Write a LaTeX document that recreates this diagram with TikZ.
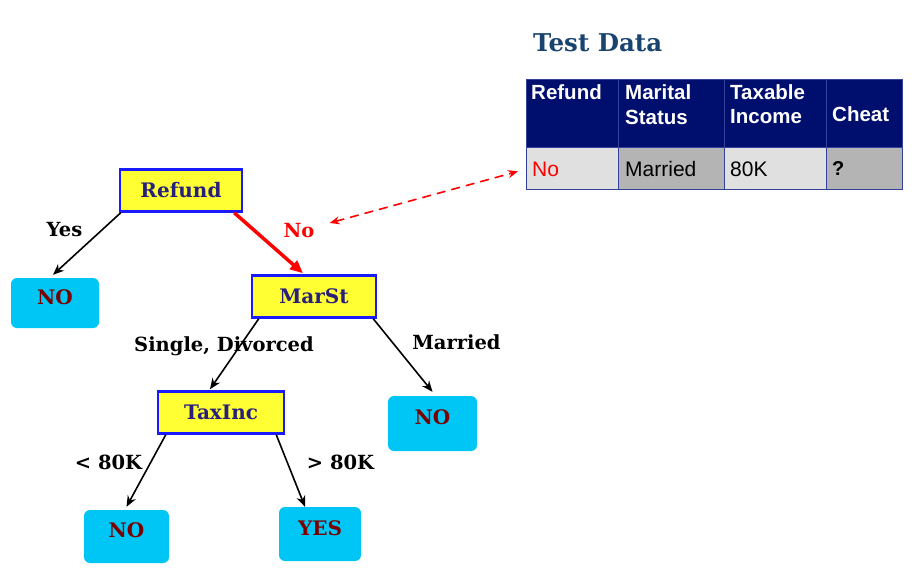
\documentclass[tikz,border=0pt]{standalone}
\usepackage{fontspec}
\setmainfont{DejaVu Serif}
\newfontfamily\arialfont{Liberation Sans}
\usetikzlibrary{arrows.meta}
\definecolor{boxyellow}{HTML}{FFFF33}
\definecolor{boxblue}{HTML}{1A1AFF}
\definecolor{navytext}{HTML}{28207A}
\definecolor{leafcyan}{HTML}{00C6F6}
\definecolor{leaftext}{HTML}{7A0000}
\definecolor{titleblue}{HTML}{1A4470}
\definecolor{headnavy}{HTML}{000F6E}
\definecolor{cellline}{HTML}{34429A}
\definecolor{lightcell}{HTML}{E0E0E0}
\definecolor{darkcell}{HTML}{B4B4B4}
\tikzset{
  attr/.style={draw=boxblue, line width=2.5pt, fill=boxyellow, text=navytext,
    font=\fontsize{20}{24}\selectfont\bfseries, inner sep=0pt, minimum height=42pt},
  leaf/.style={fill=leafcyan, rounded corners=6pt, text=leaftext,
    font=\fontsize{20}{24}\selectfont\bfseries, inner sep=0pt, text depth=12pt},
  edgelab/.style={font=\fontsize{19.5}{23}\selectfont\bfseries, inner sep=0pt},
  arr/.style={-{Stealth[length=11pt,width=9pt]}, line width=1.6pt},
  headcell/.style={fill=headnavy, draw=cellline, line width=0.8pt, inner sep=0pt},
  datacell/.style={draw=cellline, line width=0.8pt, inner sep=0pt},
  headtxt/.style={text=white, font=\arialfont\fontsize{20.5}{24}\selectfont\bfseries, inner sep=0pt, anchor=west, align=left},
  datatxt/.style={font=\arialfont\fontsize{21}{24}\selectfont, inner sep=0pt, anchor=west},
}
\begin{document}
\begin{tikzpicture}[x=1pt,y=-1pt]
\useasboundingbox (0,0) rectangle (921,576);

% tree nodes
\node[attr, minimum width=122pt] (refund) at (181,190.5) {Refund};
\node[attr, minimum width=124pt] (marst) at (314,296.5) {MarSt};
\node[attr, minimum width=126pt] (taxinc) at (221,412.5) {TaxInc};
\node[leaf, minimum width=88pt, minimum height=50pt] (no1) at (55,303) {NO};
\node[leaf, minimum width=89pt, minimum height=55pt] (no2) at (432.5,423.5) {NO};
\node[leaf, minimum width=85pt, minimum height=53pt] (no3) at (126.5,536.5) {NO};
\node[leaf, minimum width=82pt, minimum height=54pt] (yes) at (320,534) {YES};

% edges
\draw[arr] ([xshift=2pt]refund.south west) -- ([xshift=-2pt,yshift=3pt]no1.north);
\draw[-{Triangle[length=13pt,width=11pt]}, line width=3.5pt, red] ([xshift=-9pt]refund.south east) -- ([xshift=-11pt,yshift=1pt]marst.north);
\draw[arr] ([xshift=8pt]marst.south west) -- ([xshift=-11pt,yshift=1pt]taxinc.north);
\draw[arr] ([xshift=-4pt]marst.south east) -- ([yshift=4pt]no2.north);
\draw[arr] ([xshift=9pt]taxinc.south west) -- ([yshift=3pt]no3.north);
\draw[arr] ([xshift=-9pt]taxinc.south east) -- ([xshift=-15pt]yes.north);

% edge labels
\node[edgelab] (lyes) at (64.5,230) {Yes};
\node[edgelab, text=red] (lno) at (299,231) {No};
\node[edgelab] (lsd) at (224,346) {Single, Divorced};
\node[edgelab] (lmar) at (456.5,342) {Married};
\node[edgelab] (llt) at (108.5,462) {< 80K};
\node[edgelab] (lgt) at (340.5,462) {> 80K};

% title
\node[font=\fontsize{24.5}{29}\selectfont\bfseries, text=titleblue, inner sep=0pt, anchor=west] (title) at (533,43) {Test Data};

% table
\node[headcell, minimum width=92pt, minimum height=68pt, anchor=north west] (h1) at (526,79) {};
\node[headcell, minimum width=106pt, minimum height=68pt, anchor=north west] (h2) at (618,79) {};
\node[headcell, minimum width=102pt, minimum height=68pt, anchor=north west] (h3) at (724,79) {};
\node[headcell, minimum width=76pt, minimum height=68pt, anchor=north west] (h4) at (826,79) {};
\node[datacell, fill=lightcell, minimum width=92pt, minimum height=42pt, anchor=north west] (d1) at (526,147) {};
\node[datacell, fill=darkcell, minimum width=106pt, minimum height=42pt, anchor=north west] (d2) at (618,147) {};
\node[datacell, fill=lightcell, minimum width=102pt, minimum height=42pt, anchor=north west] (d3) at (724,147) {};
\node[datacell, fill=darkcell, minimum width=76pt, minimum height=42pt, anchor=north west] (d4) at (826,147) {};

\node[headtxt] (t1) at (531,92) {Refund};
\node[headtxt] (t2a) at (625,92) {Marital};
\node[headtxt] (t2b) at (625,117) {Status};
\node[headtxt] (t3a) at (730,92) {Taxable};
\node[headtxt] (t3b) at (730,117) {Income};
\node[headtxt] (t4) at (832,114) {Cheat};
\node[datatxt, text=red] (v1) at (532,169) {No};
\node[datatxt] (v2) at (625,169) {Married};
\node[datatxt] (v3) at (730,169) {80K};
\node[datatxt, font=\arialfont\fontsize{20}{24}\selectfont\bfseries] (v4) at (832,169) {?};

% dashed double arrow
\coordinate (dA) at ([xshift=15pt,yshift=8pt]lno.east);
\draw[{Stealth[length=10pt,width=8pt]}-{Stealth[length=10pt,width=8pt]}, red, dash pattern=on 9pt off 6pt, line width=1.6pt] (dA) -- ([xshift=-8pt,yshift=-3pt]d1.west);
\end{tikzpicture}
\end{document}
